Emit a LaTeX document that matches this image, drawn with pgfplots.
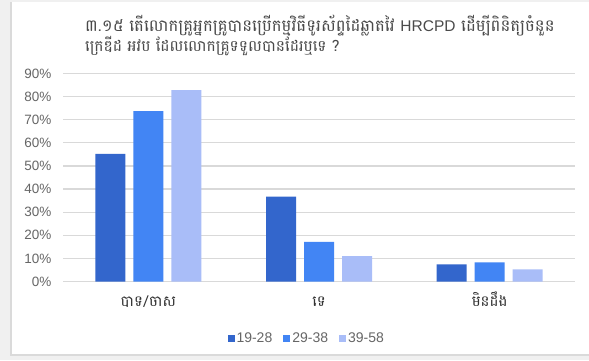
\documentclass[border=0pt]{standalone}
\usepackage{fontspec}
\setmainfont{Liberation Sans}
\newfontfamily\khmer[Script=Khmer]{Battambang}
\usepackage{pgfplots}
\pgfplotsset{compat=1.18}
\definecolor{cA}{HTML}{3366CC}
\definecolor{cB}{HTML}{4285F4}
\definecolor{cC}{HTML}{A9BDF8}
\definecolor{gridc}{HTML}{D9D9D9}
\definecolor{tickc}{HTML}{666666}
\definecolor{titlec}{HTML}{4A4A4A}
\definecolor{bgc}{HTML}{F0F0F0}
\definecolor{bordc}{HTML}{DADADA}
\begin{document}
\begin{tikzpicture}
\useasboundingbox (0,0) rectangle (589pt,360pt);
\fill[bgc] (0,0) rectangle (589pt,360pt);
\fill[bordc] (10pt,4pt) rectangle (589pt,358pt);
\fill[white] (12pt,6pt) rectangle (589pt,358pt);
\node[anchor=base west, text=titlec, font=\khmer\fontsize{16.5}{19}\selectfont, inner sep=0pt] at (85pt,329pt) {៣.១៥ តើលោកគ្រូអ្នកគ្រូបានប្រើកម្មវិធីទូរស័ព្ទដៃឆ្លាតវៃ {\rmfamily\fontsize{15.5}{18}\selectfont HRCPD} ដើម្បីពិនិត្យចំនួន};
\node[anchor=base west, text=titlec, font=\khmer\fontsize{15.5}{19}\selectfont, inner sep=0pt] at (85pt,309pt) {ក្រេឌីដ អវប ដែលលោកគ្រូទទួលបានដែរឬទេ ?};
\begin{axis}[
  at={(63pt,78.5pt)}, anchor=south west,
  scale only axis, width=512pt, height=208pt,
  ybar=8pt, bar width=30pt,
  xmin=-0.5, xmax=2.5, ymin=0, ymax=90,
  xtick={0,1,2},
  xticklabels={{បាទ/ចាស},{ទេ},{មិនដឹង}},
  xticklabel style={font=\khmer\fontsize{15}{18}\selectfont, text=black!80, anchor=base, yshift=-21pt},
  ytick={0,10,...,90},
  yticklabel={\pgfmathprintnumber{\tick}\%},
  /pgf/number format/assume math mode=true,
  yticklabel style={font=\fontsize{13.5}{15}\selectfont, text=tickc, xshift=-8pt},
  ymajorgrids, grid style={gridc, line width=1.2pt},
  axis line style={draw=none},
  major tick style={draw=none},
  legend columns=3,
  legend style={at={(0.476,-0.272)}, anchor=center, draw=none, fill=none,
    font=\fontsize{14}{16}\selectfont, text=tickc,
    /tikz/every even column/.append style={column sep=9pt},
    nodes={inner xsep=2pt}},
  legend image code/.code={\fill[#1] (0pt,-3.5pt) rectangle (7pt,3.5pt);},
]
\addplot[fill=cA, draw=none] coordinates {(0,55.2) (1,36.7) (2,7.4)};
\addplot[fill=cB, draw=none] coordinates {(0,73.7) (1,17.2) (2,8.3)};
\addplot[fill=cC, draw=none] coordinates {(0,82.8) (1,11.0) (2,5.3)};
\legend{19-28,29-38,39-58}
\end{axis}
\end{tikzpicture}
\end{document}
